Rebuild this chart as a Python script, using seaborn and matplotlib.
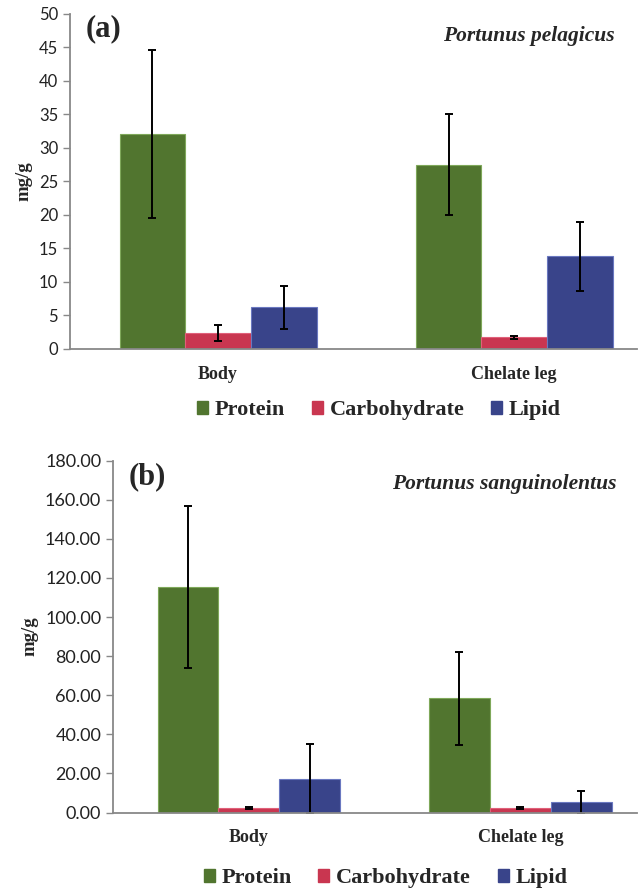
import pandas as pd
import matplotlib.pyplot as plt
import seaborn as sns

sns.set_theme(style="white")
plt.rcParams['font.family'] = ['Lato', 'DejaVu Sans']

# data
parts = ['Body', 'Chelate leg']
nutrients = ['Protein', 'Carbohydrate', 'Lipid']
colors = ['#51752F', '#C93650', '#39448A']
edges = ['#7FA85A', '#E0607A', '#6A78C0']

pel_mean = {'Protein': [32.1, 27.5], 'Carbohydrate': [2.4, 1.7], 'Lipid': [6.2, 13.8]}
pel_sd = {'Protein': [12.5, 7.5], 'Carbohydrate': [1.2, 0.25], 'Lipid': [3.2, 5.2]}
san_mean = {'Protein': [115.4, 58.5], 'Carbohydrate': [2.5, 2.4], 'Lipid': [17.4, 5.3]}
san_sd = {'Protein': [41.3, 23.7], 'Carbohydrate': [0.5, 0.5], 'Lipid': [17.5, 5.8]}


def make_df(means):
    rows = []
    for n in nutrients:
        for p, v in zip(parts, means[n]):
            rows.append({'part': p, 'nutrient': n, 'value': v})
    return pd.DataFrame(rows)


def draw(ax, means, sds, ymax, step, fmt, tick_fs, tag, species, tagx, xmax, barw, leg_x, leg_y):
    df = make_df(means)
    sns.barplot(data=df, x='part', y='value', hue='nutrient', order=parts,
                hue_order=nutrients, palette=colors, width=barw, gap=0,
                errorbar=None, legend=False, ax=ax, saturation=1)
    for cont, n, ec in zip(ax.containers, nutrients, edges):
        for bar, m, s in zip(cont, means[n], sds[n]):
            bar.set_edgecolor(ec)
            bar.set_linewidth(0.8)
            cx = bar.get_x() + bar.get_width() / 2
            ax.errorbar(cx, m, yerr=s, fmt='none', ecolor='black',
                        elinewidth=1.4, capsize=3, capthick=1.4)
    ax.set_ylim(0, ymax)
    ax.set_xlim(-0.5, xmax)
    ticks = [i * step for i in range(int(round(ymax / step)) + 1)]
    ax.set_yticks(ticks)
    ax.set_yticklabels([fmt.format(t) for t in ticks], fontsize=tick_fs, color='#222222')
    ax.tick_params(axis='y', length=5, color='#888888', width=1, direction='out', left=True)
    ax.tick_params(axis='x', length=0, pad=12)
    for lab in ax.get_xticklabels():
        lab.set_family('Liberation Serif')
        lab.set_weight('bold')
        lab.set_fontsize(13)
    sns.despine(ax=ax)
    for sp in ['left', 'bottom']:
        ax.spines[sp].set_color('#888888')
        ax.spines[sp].set_linewidth(1.3)
    ax.set_xlabel('')
    ax.set_ylabel('mg/g', family='Liberation Serif', weight='bold', fontsize=13.5, labelpad=5)
    ax.text(tagx, 0.955, tag, transform=ax.transAxes, family='Liberation Serif',
            weight='bold', fontsize=22, va='center', ha='left')
    ax.text(0.96, 0.935, species, transform=ax.transAxes, family='Liberation Serif',
            weight='bold', style='italic', fontsize=15.5, va='center', ha='right')
    handles = [plt.Rectangle((0, 0), 1, 1, color=c) for c in colors]
    ax.legend(handles, nutrients, loc='upper center', bbox_to_anchor=(leg_x, leg_y),
              ncol=3, frameon=False, handlelength=0.5, handleheight=0.5,
              handletextpad=0.3, columnspacing=1.2, borderaxespad=0, borderpad=0,
              prop={'family': 'Liberation Serif', 'weight': 'bold', 'size': 16})


fig = plt.figure(figsize=(6.39, 8.9), dpi=100)
ax1 = fig.add_axes([0.1095, 0.608, 0.8875, 0.3763])
ax2 = fig.add_axes([0.1768, 0.087, 0.8202, 0.3954])

draw(ax1, pel_mean, pel_sd, 50, 5, '{:.0f}', 12, '(a)', 'Portunus pelagicus',
     0.027, 1.415, 0.665, 0.545, -0.153)
draw(ax2, san_mean, san_sd, 180, 20, '{:.2f}', 13, '(b)', 'Portunus sanguinolentus',
     0.03, 1.43, 0.672, 0.52, -0.158)

fig.savefig('out.png', dpi=100)
